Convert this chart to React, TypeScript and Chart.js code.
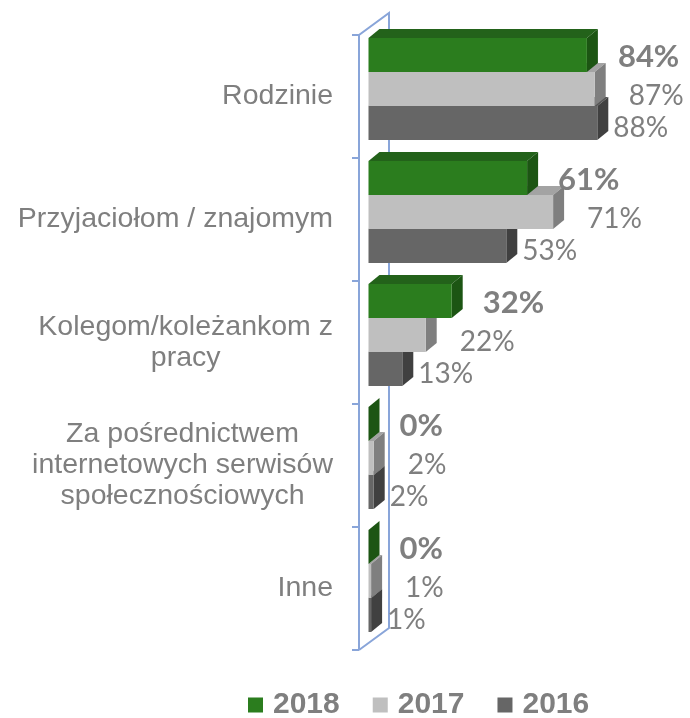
import React, { useEffect, useRef } from "react";
import { Chart, registerables } from "chart.js";

Chart.register(...registerables);

// ---- data ----
const categories: string[][] = [
  ["Rodzinie"],
  ["Przyjaciołom / znajomym"],
  ["Kolegom/koleżankom z", "pracy"],
  ["Za pośrednictwem", "internetowych serwisów", "społecznościowych"],
  ["Inne"],
];
const seriesNames = ["2018", "2017", "2016"];
const values2018 = [84, 61, 32, 0, 0];
const values2017 = [87, 71, 22, 2, 1];
const values2016 = [88, 53, 13, 2, 1];

// ---- styles ----
const frontColors = ["#2B7D1E", "#BFBFBF", "#666666"];
const topColors = ["#23621A", "#A3A3A3", "#555555"];
const sideColors = ["#1C5513", "#7F7F7F", "#404040"];
const TEXT = "#7F7F7F";
const WALL = "#89A5D9";
const DX = 11;
const DY = -9;
const SHIFT = -7.5;
const labelDx = [31, 34, 16];
const labelDy = [2, 7, 5];
const labelFont = ["bold 31px Lato", "28px Lato", "28px Lato"];

const threeD = {
  id: "threeD",
  beforeDatasetsDraw(chart: any) {
    const ctx: CanvasRenderingContext2D = chart.ctx;
    const area = chart.chartArea;
    const yScale = chart.scales.y;
    const wl = area.left - 9.5;
    const wdx = 30;
    const wdy = -22;
    ctx.save();
    ctx.strokeStyle = WALL;
    ctx.lineWidth = 2;
    ctx.beginPath();
    ctx.moveTo(wl, area.bottom);
    ctx.lineTo(wl, area.top);
    ctx.lineTo(wl + wdx, area.top + wdy);
    ctx.lineTo(wl + wdx, area.bottom + wdy);
    ctx.lineTo(wl, area.bottom);
    const n = categories.length;
    const bounds: number[] = [area.top];
    for (let i = 0; i < n - 1; i++) {
      bounds.push((yScale.getPixelForTick(i) + yScale.getPixelForTick(i + 1)) / 2);
    }
    bounds.push(area.bottom);
    bounds.forEach((b) => {
      ctx.moveTo(wl - 7, b);
      ctx.lineTo(wl, b);
    });
    ctx.stroke();
    ctx.restore();

    ctx.save();
    ctx.translate(0, SHIFT);
    for (let d = chart.data.datasets.length - 1; d >= 0; d--) {
      const meta = chart.getDatasetMeta(d);
      meta.data.forEach((bar: any) => {
        const { x, y, base, height } = bar.getProps(["x", "y", "base", "height"], true);
        const top = y - height / 2;
        const bottom = y + height / 2;
        ctx.fillStyle = topColors[d];
        ctx.beginPath();
        ctx.moveTo(base, top);
        ctx.lineTo(base + DX, top + DY);
        ctx.lineTo(x + DX, top + DY);
        ctx.lineTo(x, top);
        ctx.closePath();
        ctx.fill();
        ctx.fillStyle = sideColors[d];
        ctx.beginPath();
        ctx.moveTo(x, top);
        ctx.lineTo(x + DX, top + DY);
        ctx.lineTo(x + DX, bottom + DY);
        ctx.lineTo(x, bottom);
        ctx.closePath();
        ctx.fill();
      });
    }
  },
  afterDatasetsDraw(chart: any) {
    const ctx: CanvasRenderingContext2D = chart.ctx;
    ctx.fillStyle = TEXT;
    ctx.textAlign = "left";
    ctx.textBaseline = "middle";
    chart.data.datasets.forEach((ds: any, d: number) => {
      const meta = chart.getDatasetMeta(d);
      ctx.font = labelFont[d];
      meta.data.forEach((bar: any, i: number) => {
        const { x, y } = bar.getProps(["x", "y"], true);
        ctx.fillText(ds.data[i] + "%", x + labelDx[d], y + labelDy[d]);
      });
    });
    ctx.restore();
  },
  afterDraw(chart: any) {
    const ctx: CanvasRenderingContext2D = chart.ctx;
    const area = chart.chartArea;
    const yScale = chart.scales.y;
    ctx.save();
    // category labels
    ctx.font = "28.5px 'Liberation Sans', Arial, sans-serif";
    ctx.fillStyle = TEXT;
    ctx.textAlign = "center";
    ctx.textBaseline = "middle";
    const rightEdge = area.left - 35.5;
    const lh = 31;
    categories.forEach((lines, i) => {
      const cy = yScale.getPixelForTick(i);
      const w = Math.max(...lines.map((l) => ctx.measureText(l).width));
      const cx = rightEdge - w / 2;
      lines.forEach((l, j) => {
        ctx.fillText(l, cx, cy + (j - (lines.length - 1) / 2) * lh);
      });
    });
    // legend
    ctx.font = "bold 30px 'Liberation Sans', Arial, sans-serif";
    ctx.textAlign = "left";
    let lx = 248;
    const ly = 705;
    chart.data.datasets.forEach((ds: any, d: number) => {
      ctx.fillStyle = frontColors[d];
      ctx.fillRect(lx, ly - 7.5, 15, 15);
      ctx.fillStyle = TEXT;
      ctx.fillText(ds.label, lx + 25, ly);
      lx += 25 + ctx.measureText(ds.label).width + 33;
    });
    ctx.restore();
  },
};

export default function App() {
  const ref = useRef<HTMLCanvasElement | null>(null);
  useEffect(() => {
    if (!ref.current) return;
    const seriesValues = [values2018, values2017, values2016];
    const chart = new Chart(ref.current, {
      type: "bar",
      data: {
        labels: categories.map((c) => c.join(" ")),
        datasets: seriesNames.map((name, d) => ({
          label: name,
          data: seriesValues[d],
          backgroundColor: frontColors[d],
          borderWidth: 0,
          categoryPercentage: 102 / 123,
          barPercentage: 1,
          clip: false as any,
        })),
      },
      options: {
        indexAxis: "y",
        animation: false,
        responsive: false,
        maintainAspectRatio: false,
        layout: { padding: { left: 368.5, right: 61.5, top: 35, bottom: 68 } },
        scales: {
          x: { min: 0, max: 100, display: false },
          y: { display: false },
        },
        plugins: { legend: { display: false }, tooltip: { enabled: false } },
      },
      plugins: [threeD],
    });
    return () => chart.destroy();
  }, []);
  return (
    <div style={{ position: "fixed", left: 0, top: 0, width: 690, height: 718, background: "#fff" }}>
      <canvas ref={ref} width={690} height={718} style={{ display: "block" }} />
    </div>
  );
}
